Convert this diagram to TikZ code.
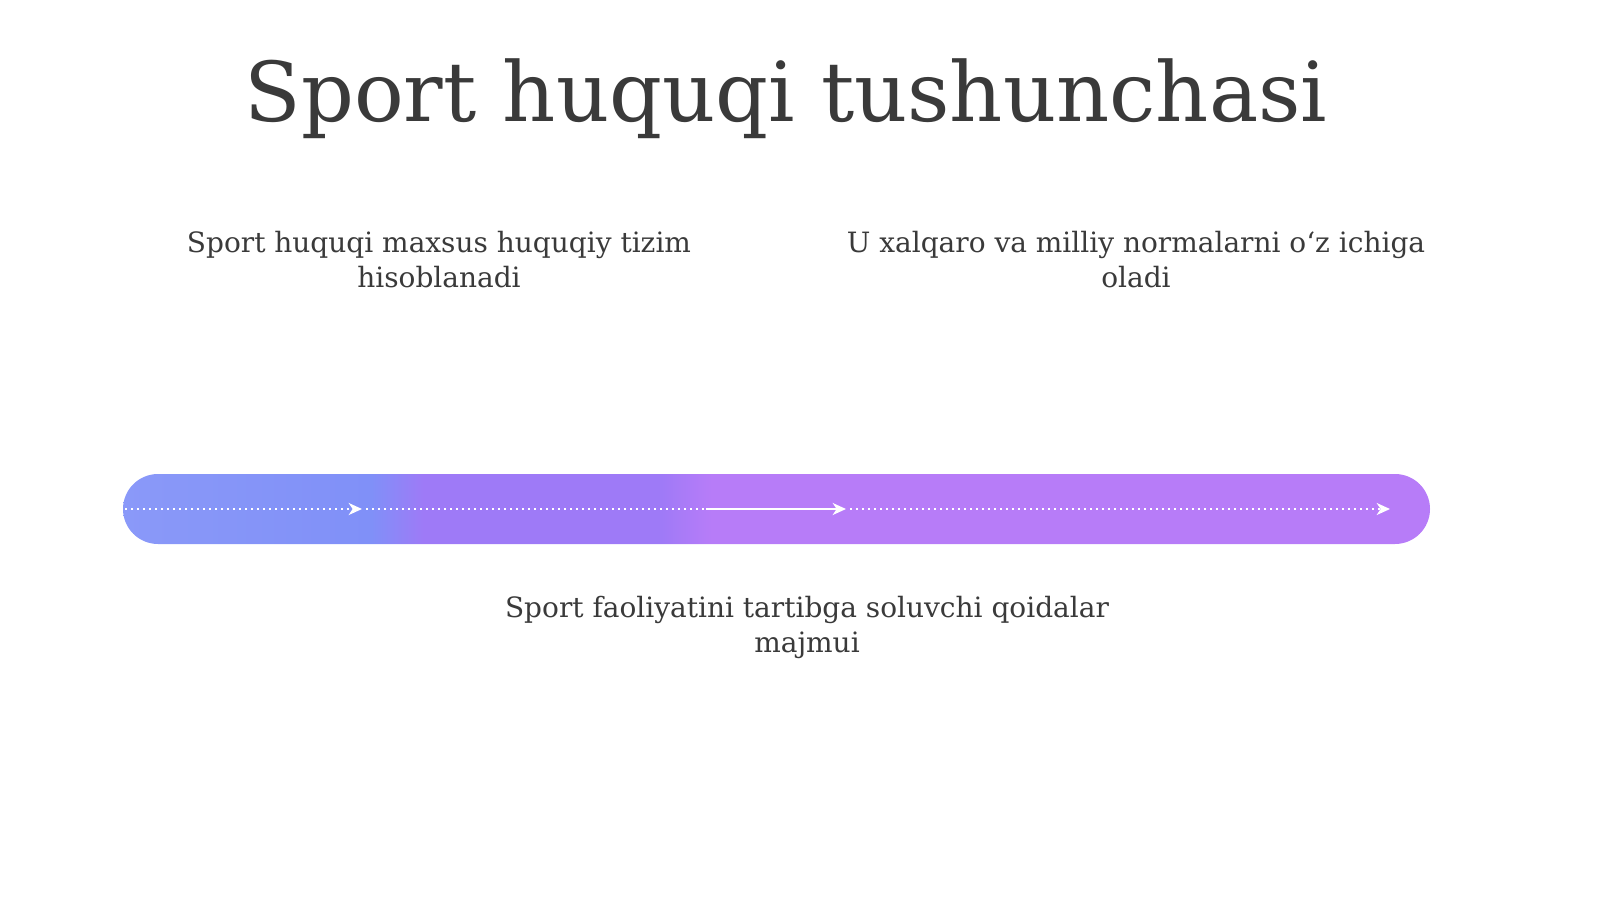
\documentclass[tikz,border=0pt]{standalone}
\usepackage{fontspec}
\setmainfont{DejaVu Serif}
\usetikzlibrary{arrows.meta}
\definecolor{inkgray}{HTML}{3A3A3A}
\definecolor{barblue}{HTML}{8090F8}
\definecolor{barviolet}{HTML}{9E7AF7}
\definecolor{barpink}{HTML}{B77CF8}
\pgfdeclarehorizontalshading{barshade}{100bp}{color(0bp)=(barblue);color(25bp)=(barblue!92!white);color(34.5bp)=(barblue);color(36.5bp)=(barviolet);color(45.5bp)=(barviolet);color(47.5bp)=(barpink);color(75bp)=(barpink);color(100bp)=(barpink)}
\tikzset{
  bodytext/.style={font=\fontsize{21}{26.25}\selectfont, text=inkgray, align=center, anchor=base, inner sep=0pt},
  flowline/.style={white, line width=1.5pt, dash pattern=on 1.5pt off 3pt},
  flowtip/.style={-{Stealth[length=10pt,width=9pt,inset=3pt]}}
}
\begin{document}
\begin{tikzpicture}[x=0.75pt,y=-0.75pt]
\useasboundingbox (0,0) rectangle (1600,899);
% title
\node[font=\fontsize{62}{70}\selectfont, text=inkgray, anchor=base, inner sep=0pt] (title) at (786,122) {Sport huquqi tushunchasi};
% upper texts (base = last line)
\node[bodytext] (left) at (439,287) {Sport huquqi maxsus huquqiy tizim\\hisoblanadi};
\node[bodytext] (right) at (1136,287) {U xalqaro va milliy normalarni o‘z ichiga\\oladi};
% bar
\shade[shading=barshade, rounded corners=35*0.75pt] (123,474) rectangle (1430,544);
\coordinate (b0) at (125,509);
\coordinate (b1) at (362,509);
\coordinate (b2) at (366,509);
\coordinate (b3) at (706,509);
\coordinate (b4) at (846,509);
\coordinate (b5) at (850,509);
\coordinate (b6) at (1390,509);
\draw[flowline, flowtip] (b0) -- (b1);
\draw[flowline] (b2) -- (b3);
\draw[white, line width=1.5pt, flowtip] (b3) -- (b4);
\draw[flowline, flowtip] (b5) -- (b6);
% lower text
\node[bodytext] (bottom) at (807,652) {Sport faoliyatini tartibga soluvchi qoidalar\\majmui};
\end{tikzpicture}
\end{document}
